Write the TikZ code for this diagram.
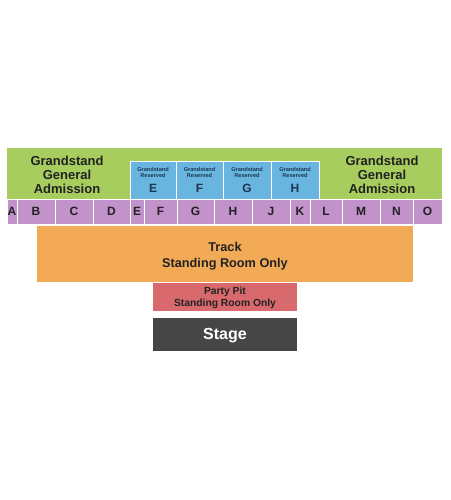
\documentclass[tikz,border=0pt]{standalone}
\usepackage{fontspec}
\setmainfont{Liberation Sans}
\definecolor{gsgreen}{HTML}{A6CD5E}
\definecolor{gsblue}{HTML}{68B6E0}
\definecolor{gspurple}{HTML}{C292CA}
\definecolor{gsorange}{HTML}{F2AA57}
\definecolor{gsred}{HTML}{D8696D}
\definecolor{gsstage}{HTML}{464646}
\definecolor{gstext}{HTML}{222222}
\definecolor{gsnavy}{HTML}{1C3550}
\begin{document}
\begin{tikzpicture}[x=1pt,y=-1pt,
  area/.style={inner sep=0pt,outer sep=0pt,align=center,font=\bfseries,text=gstext},
  green/.style={area,fill=gsgreen,minimum height=51pt},
  blue/.style={area,fill=gsblue,draw=white,line width=0.8pt,minimum height=38pt},
  resvtext/.style={area,text=gsnavy,font=\fontsize{5.6}{6.4}\selectfont\bfseries},
  resvletter/.style={area,text=gsnavy,font=\fontsize{12}{13}\selectfont\bfseries},
  purp/.style={area,fill=gspurple,draw=white,line width=0.8pt,minimum height=25pt,font=\fontsize{12}{13}\selectfont\bfseries},
  gatext/.style={area,font=\fontsize{13}{14}\selectfont\bfseries}
]
\useasboundingbox (0,0) rectangle (450,500);
% grandstand general admission band
\node[green,minimum width=435pt] (ga) at (224.5,173.5) {};
\node[gatext] (gaL) at (67,175) {Grandstand\\General\\Admission};
\node[gatext] (gaR) at (382,175) {Grandstand\\General\\Admission};
% reserved boxes
\node[blue,minimum width=46pt] (rE) at (153,180) {};
\node[blue,minimum width=47pt] (rF) at (199.5,180) {};
\node[blue,minimum width=48pt] (rG) at (247,180) {};
\node[blue,minimum width=48pt] (rH) at (295,180) {};
\foreach \b/\l in {rE/E,rF/F,rG/G,rH/H}{
  \node[resvtext] (\b t) at ([yshift=7.5pt]\b.center) {Grandstand\\Reserved};
  \node[resvletter] (\b l) at ([yshift=-8.5pt]\b.center) {\l};
}
% lettered sections
\node[purp,minimum width=10pt] (A) at (12,211.5) {A};
\node[purp,minimum width=38pt] (B) at (36,211.5) {B};
\node[purp,minimum width=38pt] (C) at (74,211.5) {C};
\node[purp,minimum width=37pt] (D) at (111.5,211.5) {D};
\node[purp,minimum width=14pt] (E) at (137,211.5) {E};
\node[purp,minimum width=33pt] (F) at (160.5,211.5) {F};
\node[purp,minimum width=37pt] (G) at (195.5,211.5) {G};
\node[purp,minimum width=38pt] (H) at (233,211.5) {H};
\node[purp,minimum width=38pt] (J) at (271,211.5) {J};
\node[purp,minimum width=20pt] (K) at (300,211.5) {K};
\node[purp,minimum width=32pt] (L) at (326,211.5) {L};
\node[purp,minimum width=38pt] (M) at (361,211.5) {M};
\node[purp,minimum width=33pt] (N) at (396.5,211.5) {N};
\node[purp,minimum width=29pt] (O) at (427.5,211.5) {O};
% track
\node[area,fill=gsorange,minimum width=376pt,minimum height=56pt] (track) at (225,254) {};
\node[area,font=\fontsize{12.7}{15.5}\selectfont\bfseries] (tracktext) at (225,256) {Track\\Standing Room Only};
% party pit
\node[area,fill=gsred,minimum width=144pt,minimum height=28pt] (pit) at (225,297) {};
\node[area,font=\fontsize{10.3}{12.5}\selectfont\bfseries] (pittext) at (225,298) {Party Pit\\Standing Room Only};
% stage
\node[area,fill=gsstage,minimum width=144pt,minimum height=33pt] (stage) at (225,334.5) {};
\node[area,text=white,font=\fontsize{16}{18}\selectfont\bfseries] (stagetext) at (225,336) {Stage};
\end{tikzpicture}
\end{document}
